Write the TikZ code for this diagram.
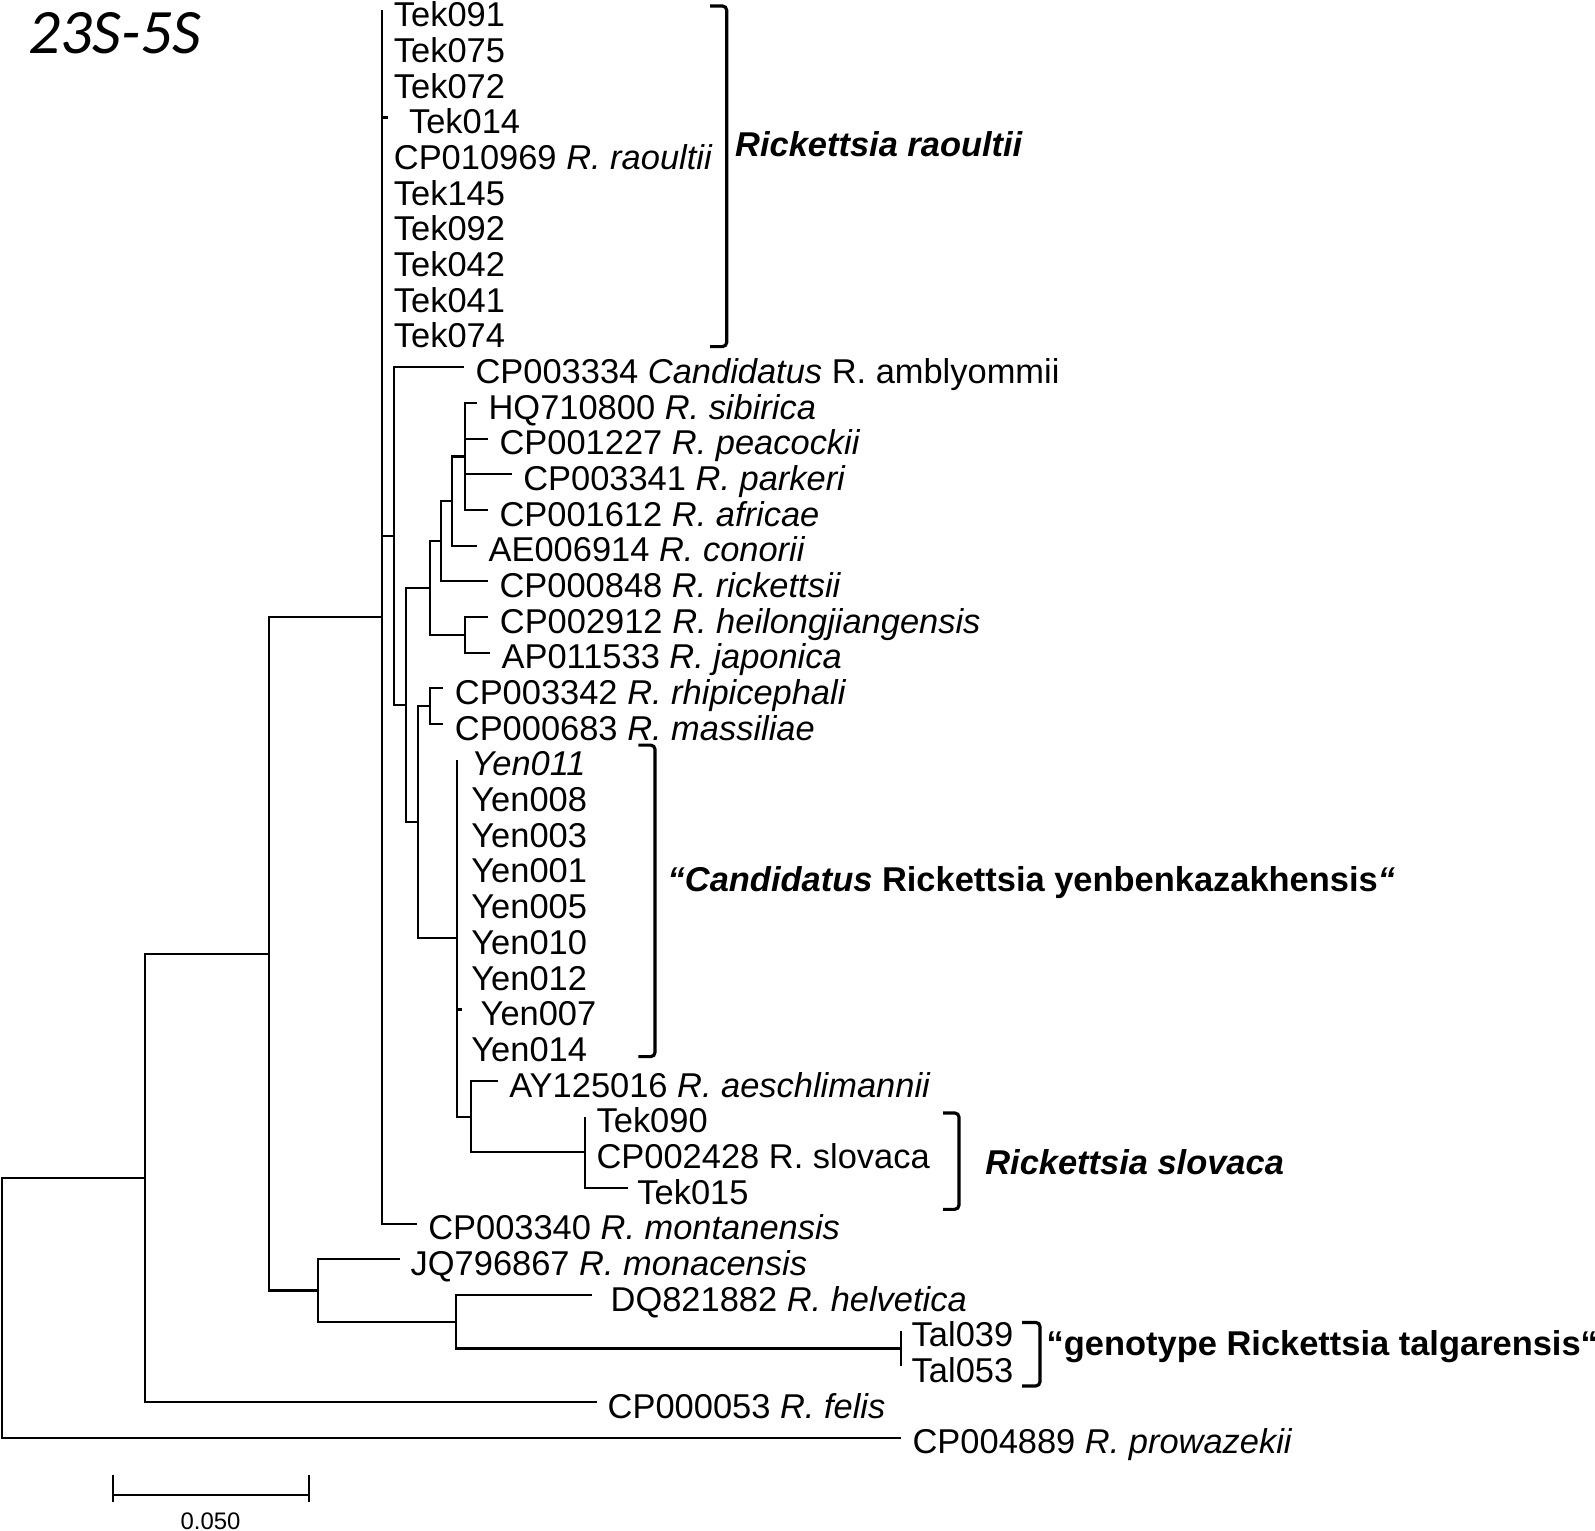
\documentclass[tikz,border=0pt]{standalone}
\usepackage{fontspec}
\setmainfont{Liberation Sans}
\newfontfamily\titlefont{Carlito}
\usetikzlibrary{positioning}
\tikzset{
  tree/.style  ={line width=0.6pt, line join=miter},
  brk/.style   ={line width=0.9pt, rounded corners=1.2pt},
  leaf/.style  ={anchor=west, inner xsep=3.1pt, inner ysep=0pt, text height=9.2pt,
                 text depth=0pt, font=\fontsize{9.8}{11}\selectfont},
  yen/.style   ={leaf, inner xsep=3.8pt},
  clade/.style ={leaf, inner xsep=0pt, font=\fontsize{9.8}{11}\selectfont\bfseries},
  barlab/.style={inner sep=0pt, font=\fontsize{6.8}{8}\selectfont},
}
\newcommand{\spn}[1]{\textit{#1}}

\begin{document}
\begin{tikzpicture}[x=0.1mm, y=-3.568mm]
  \useasboundingbox (0,-0.2943) rectangle (1595,42.615);
  \node[anchor=base west, inner sep=0pt, font=\titlefont\itshape\fontsize{18}{21}\selectfont] (title) at (28,1.2) {23S-5S};
  % internal nodes
  \coordinate (root) at (2,36.36);
  \coordinate (nA) at (145,32.72);
  \coordinate (nB) at (269.3,26.44);
  \coordinate (nC) at (382.3,17);
  \coordinate (nD) at (318.3,35.875);
  \coordinate (nE) at (456,36.75);
  \coordinate (nT) at (901,37.5);
  \coordinate (nF) at (394.3,14.73);
  \coordinate (nG) at (406,19.47);
  \coordinate (nH) at (430,16.19);
  \coordinate (nI) at (441,14.875);
  \coordinate (nK) at (452,13.75);
  \coordinate (nL) at (465,12.5);
  \coordinate (nJ) at (465,17.5);
  \coordinate (nM) at (418.3,22.75);
  \coordinate (nN) at (430,19.5);
  \coordinate (nO) at (457.3,26);
  \coordinate (nP) at (470.7,31);
  \coordinate (nQ) at (585,32);
  % leaves, raoultii group
  \node[leaf] (tek091) at (382.3,0) {Tek091};
  \node[leaf] (tek075) at (382.3,1) {Tek075};
  \node[leaf] (tek072) at (382.3,2) {Tek072};
  \node[leaf, inner xsep=5.7pt] (tek014) at (388.3,3) {Tek014};
  \node[leaf] (cp010969) at (382.3,4) {CP010969 \spn{R. raoultii}};
  \node[leaf] (tek145) at (382.3,5) {Tek145};
  \node[leaf] (tek092) at (382.3,6) {Tek092};
  \node[leaf] (tek042) at (382.3,7) {Tek042};
  \node[leaf] (tek041) at (382.3,8) {Tek041};
  \node[leaf] (tek074) at (382.3,9) {Tek074};
  % spotted fever group
  \node[leaf] (cp003334) at (464,10) {CP003334 \spn{Candidatus} R. amblyommii};
  \node[leaf] (hq710800) at (477,11) {HQ710800 \spn{R. sibirica}};
  \node[leaf] (cp001227) at (488,12) {CP001227 \spn{R. peacockii}};
  \node[leaf] (cp003341) at (511.7,13) {CP003341 \spn{R. parkeri}};
  \node[leaf] (cp001612) at (488,14) {CP001612 \spn{R. africae}};
  \node[leaf] (ae006914) at (477,15) {AE006914 \spn{R. conorii}};
  \node[leaf] (cp000848) at (488,16) {CP000848 \spn{R. rickettsii}};
  \node[leaf] (cp002912) at (488.3,17) {CP002912 \spn{R. heilongjiangensis}};
  \node[leaf] (ap011533) at (490,18) {AP011533 \spn{R. japonica}};
  \node[leaf] (cp003342) at (443.3,19) {CP003342 \spn{R. rhipicephali}};
  \node[leaf] (cp000683) at (443.3,20) {CP000683 \spn{R. massiliae}};
  % yenbenkazakhensis group
  \node[yen] (yen011) at (457.3,21) {\spn{Yen011}};
  \node[yen] (yen008) at (457.3,22) {Yen008};
  \node[yen] (yen003) at (457.3,23) {Yen003};
  \node[yen] (yen001) at (457.3,24) {Yen001};
  \node[yen] (yen005) at (457.3,25) {Yen005};
  \node[yen] (yen010) at (457.3,26) {Yen010};
  \node[yen] (yen012) at (457.3,27) {Yen012};
  \node[yen, inner xsep=5.2pt] (yen007) at (461.7,28) {Yen007};
  \node[yen] (yen014) at (457.3,29) {Yen014};
  \node[leaf] (ay125016) at (497.7,30) {AY125016 \spn{R. aeschlimannii}};
  \node[leaf] (tek090) at (585,31) {Tek090};
  \node[leaf] (cp002428) at (585,32) {CP002428 R. slovaca};
  \node[leaf, inner xsep=2.4pt] (tek015) at (628.3,33) {Tek015};
  \node[leaf] (cp003340) at (416.7,34) {CP003340 \spn{R. montanensis}};
  % outer leaves
  \node[leaf, inner xsep=2.85pt] (jq796867) at (400,35) {JQ796867 \spn{R. monacensis}};
  \node[leaf, inner xsep=5.1pt] (dq821882) at (592,36) {DQ821882 \spn{R. helvetica}};
  \node[leaf, inner xsep=2.85pt] (tal039) at (901,37) {Tal039};
  \node[leaf, inner xsep=2.85pt] (tal053) at (901,38) {Tal053};
  \node[leaf, inner xsep=2.85pt] (cp000053) at (597,39) {CP000053 \spn{R. felis}};
  \node[leaf] (cp004889) at (901,40) {CP004889 \spn{R. prowazekii}};
  % branches
  \draw[tree] (root) |- (nA) (root) |- (cp004889.west);
  \draw[tree] (nA) |- (nB) (nA) |- (cp000053.west);
  \draw[tree] (nB) |- (nC) (nB) |- (nD);
  \draw[tree] (nD) |- (jq796867.west) (nD) |- (nE);
  \draw[tree] (nE) |- (dq821882.west) (nE) |- (nT);
  \draw[tree] (nT) |- (tal039.west) (nT) |- (tal053.west);
  \draw[tree] (nC) |- (tek091.west) (nC) |- (tek014.west) (nC) |- (nF) (nC) |- (cp003340.west);
  \draw[tree] (nF) |- (cp003334.west) (nF) |- (nG);
  \draw[tree] (nG) |- (nH) (nG) |- (nM);
  \draw[tree] (nH) |- (nI) (nH) |- (nJ);
  \draw[tree] (nI) |- (nK) (nI) |- (cp000848.west);
  \draw[tree] (nK) |- (nL) (nK) |- (ae006914.west);
  \draw[tree] (nL) |- (hq710800.west) (nL) |- (cp001227.west) (nL) |- (cp003341.west) (nL) |- (cp001612.west);
  \draw[tree] (nJ) |- (cp002912.west) (nJ) |- (ap011533.west);
  \draw[tree] (nM) |- (nN) (nM) |- (nO);
  \draw[tree] (nN) |- (cp003342.west) (nN) |- (cp000683.west);
  \draw[tree] (nO) |- (yen011.west) (nO) |- (yen007.west) (nO) |- (nP);
  \draw[tree] (nP) |- (ay125016.west) (nP) |- (nQ);
  \draw[tree] (nQ) |- (tek090.west) (nQ) |- (cp002428.west) (nQ) |- (tek015.west);
  % clade brackets
  \draw[brk] (710,-0.126) -| (726.7,9.42) -- (710,9.42);
  \draw[brk] (638.3,20.59) -| (655,29.32) -- (638.3,29.32);
  \draw[brk] (943,30.90) -| (959,33.60) -- (943,33.60);
  \draw[brk] (1022,36.77) -| (1040,38.55) -- (1022,38.55);
  \coordinate (labR) at (726.7,3.65);
  \coordinate (labY) at (655,24.24);
  \coordinate (labS) at (959,32.16);
  \coordinate (labT) at (1040,37.24);
  \node[clade, right=0.78mm of labR] (raoultii) {\spn{Rickettsia raoultii}};
  \node[clade, right=1.2mm of labY] (yenben) {\spn{“Candidatus} Rickettsia yenbenkazakhensis\spn{“}};
  \node[clade, right=2.56mm of labS] (slovaca) {\spn{Rickettsia slovaca}};
  \node[clade, right=0.6mm of labT] (talgar) {“genotype Rickettsia talgarensis“};
  % scale bar
  \coordinate (sbL) at (113.3,41.61);
  \coordinate (sbR) at (309.3,41.61);
  \draw[tree] (sbL) -- (sbR);
  \draw[tree] ([yshift=2mm]sbL) -- ([yshift=-0.7mm]sbL) ([yshift=2mm]sbR) -- ([yshift=-0.7mm]sbR);
  \node[barlab] (sblab) at (210.6,42.33) {0.050};
\end{tikzpicture}
\end{document}
